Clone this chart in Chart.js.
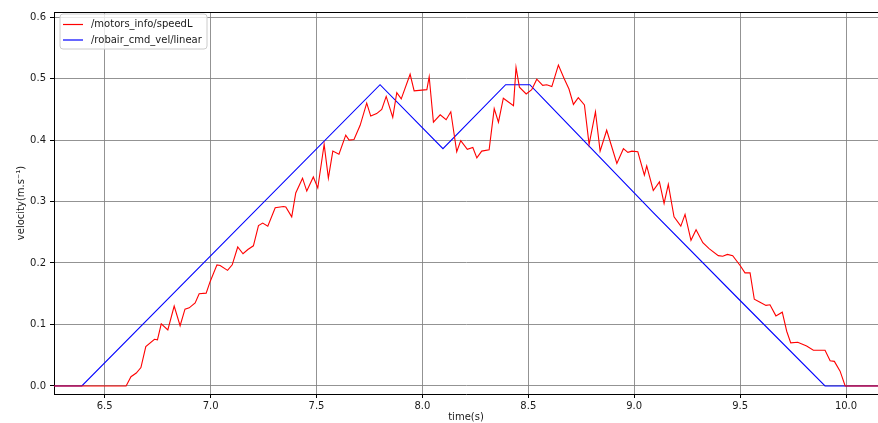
<!DOCTYPE html>
<html>
<head>
<meta charset="utf-8">
<script src="https://cdn.jsdelivr.net/npm/chart.js@4/dist/chart.umd.min.js"></script>
<style>
  html, body { margin: 0; padding: 0; background: #fff; overflow: hidden; }
  #wrap { position: relative; width: 878px; height: 423px; }
</style>
</head>
<body>
<div id="wrap"><canvas id="c"></canvas></div>
<script>
const seriesLabels = ['/motors_info/speedL', '/robair_cmd_vel/linear'];

const redTime = [
  6.200, 6.601, 6.624, 6.649, 6.671, 6.694, 6.735, 6.749, 6.767, 6.798,
  6.828, 6.856, 6.879, 6.899, 6.927, 6.946, 6.979, 6.998, 7.030, 7.045,
  7.080, 7.102, 7.128, 7.153, 7.176, 7.202, 7.226, 7.246, 7.270, 7.305,
  7.344, 7.355, 7.383, 7.402, 7.434, 7.454, 7.485, 7.506, 7.536, 7.556,
  7.577, 7.606, 7.638, 7.654, 7.677, 7.706, 7.737, 7.756, 7.784, 7.808,
  7.829, 7.860, 7.879, 7.900, 7.942, 7.961, 8.021, 8.032, 8.052, 8.084,
  8.112, 8.134, 8.162, 8.181, 8.212, 8.238, 8.257, 8.280, 8.315, 8.339,
  8.359, 8.382, 8.430, 8.442, 8.458, 8.490, 8.516, 8.540, 8.568, 8.587,
  8.611, 8.642, 8.669, 8.692, 8.713, 8.736, 8.765, 8.787, 8.817, 8.839,
  8.870, 8.918, 8.949, 8.970, 8.989, 9.017, 9.048, 9.059, 9.090, 9.119,
  9.141, 9.161, 9.188, 9.220, 9.240, 9.268, 9.292, 9.324, 9.355, 9.397,
  9.418, 9.440, 9.465, 9.500, 9.523, 9.547, 9.567, 9.594, 9.622, 9.641,
  9.669, 9.699, 9.720, 9.739, 9.772, 9.814, 9.846, 9.901, 9.925, 9.945,
  9.972, 9.996, 10.200
];
const redSpeed = [
  0.000, 0.000, 0.015, 0.021, 0.030, 0.064, 0.076, 0.075, 0.101, 0.091,
  0.130, 0.098, 0.125, 0.127, 0.135, 0.150, 0.151, 0.170, 0.197, 0.196,
  0.188, 0.197, 0.226, 0.215, 0.222, 0.228, 0.261, 0.265, 0.260, 0.290,
  0.292, 0.291, 0.275, 0.314, 0.338, 0.317, 0.340, 0.322, 0.393, 0.338,
  0.382, 0.377, 0.408, 0.400, 0.401, 0.424, 0.460, 0.439, 0.443, 0.450,
  0.471, 0.437, 0.477, 0.467, 0.507, 0.480, 0.482, 0.503, 0.429, 0.441,
  0.433, 0.446, 0.381, 0.399, 0.385, 0.388, 0.371, 0.382, 0.384, 0.451,
  0.429, 0.468, 0.456, 0.518, 0.486, 0.475, 0.482, 0.499, 0.489, 0.490,
  0.487, 0.522, 0.500, 0.483, 0.458, 0.469, 0.457, 0.393, 0.446, 0.382,
  0.416, 0.362, 0.386, 0.380, 0.382, 0.381, 0.343, 0.358, 0.318, 0.332,
  0.297, 0.328, 0.275, 0.260, 0.279, 0.237, 0.254, 0.233, 0.223, 0.212,
  0.211, 0.214, 0.212, 0.196, 0.184, 0.184, 0.141, 0.136, 0.131, 0.132,
  0.114, 0.120, 0.089, 0.070, 0.071, 0.065, 0.058, 0.058, 0.041, 0.040,
  0.024, 0.000, 0.000
];

const blueTime  = [6.200, 6.392, 7.800, 8.097, 8.393, 8.507, 8.600, 9.090, 9.500, 9.901, 10.200];
const blueSpeed = [0.000, 0.000, 0.490, 0.386, 0.490, 0.490, 0.457, 0.282, 0.139, 0.000, 0.000];

const xTicks = [6.5, 7.0, 7.5, 8.0, 8.5, 9.0, 9.5, 10.0];
const yTicks = [0.0, 0.1, 0.2, 0.3, 0.4, 0.5, 0.6];

const xTitle = 'time(s)';
const yTitle = 'velocity(m.s\u207B\u00B9)';

const FONT = 'DejaVu Sans';
Chart.defaults.font.family = FONT;
Chart.defaults.font.size = 10;
Chart.defaults.color = '#1a1a1a';

const toPts = (xs, ys) => xs.map((x, i) => ({ x: x, y: ys[i] }));

const frameAndLegend = {
  id: 'frameAndLegend',
  afterDraw(chart) {
    const ctx = chart.ctx;
    const a = chart.chartArea;
    ctx.save();
    // top spine
    ctx.strokeStyle = '#000';
    ctx.lineWidth = 1;
    ctx.beginPath();
    ctx.moveTo(a.left, a.top + 0.5);
    ctx.lineTo(a.right, a.top + 0.5);
    ctx.stroke();

    // legend box
    const bx = a.left + 6, by = a.top + 2, bw = 147, bh = 35, r = 3;
    ctx.beginPath();
    ctx.moveTo(bx + r, by);
    ctx.lineTo(bx + bw - r, by);
    ctx.quadraticCurveTo(bx + bw, by, bx + bw, by + r);
    ctx.lineTo(bx + bw, by + bh - r);
    ctx.quadraticCurveTo(bx + bw, by + bh, bx + bw - r, by + bh);
    ctx.lineTo(bx + r, by + bh);
    ctx.quadraticCurveTo(bx, by + bh, bx, by + bh - r);
    ctx.lineTo(bx, by + r);
    ctx.quadraticCurveTo(bx, by, bx + r, by);
    ctx.closePath();
    ctx.fillStyle = 'rgba(255,255,255,0.8)';
    ctx.fill();
    ctx.strokeStyle = '#cccccc';
    ctx.lineWidth = 1;
    ctx.stroke();

    ctx.font = '10px "' + FONT + '"';
    ctx.textBaseline = 'middle';
    ctx.textAlign = 'left';
    chart.data.datasets.forEach((ds, i) => {
      const yy = by + 10.5 + i * 15.5;
      ctx.strokeStyle = ds.borderColor;
      ctx.lineWidth = 1.2;
      ctx.beginPath();
      ctx.moveTo(bx + 3, yy);
      ctx.lineTo(bx + 23, yy);
      ctx.stroke();
      ctx.fillStyle = '#1a1a1a';
      ctx.fillText(ds.label, bx + 31, yy);
    });
    ctx.restore();
  }
};

new Chart(document.getElementById('c'), {
  type: 'line',
  data: {
    datasets: [
      {
        label: seriesLabels[0],
        data: toPts(redTime, redSpeed),
        borderColor: 'rgb(255,0,0)',
        borderWidth: 1.1,
        pointRadius: 0,
        tension: 0,
        fill: false
      },
      {
        label: seriesLabels[1],
        data: toPts(blueTime, blueSpeed),
        borderColor: 'rgb(0,0,255)',
        borderWidth: 1.1,
        pointRadius: 0,
        tension: 0,
        fill: false
      }
    ]
  },
  options: {
    responsive: true,
    maintainAspectRatio: false,
    animation: false,
    events: [],
    layout: { padding: { top: 12, right: 0, left: 0, bottom: 0 } },
    plugins: {
      legend: { display: false },
      tooltip: { enabled: false }
    },
    scales: {
      x: {
        type: 'linear',
        min: 6.2606,
        max: 10.151,
        afterBuildTicks(scale) { scale.ticks = xTicks.map(v => ({ value: v })); },
        afterFit(scale) { scale.height = 29; },
        ticks: {
          autoSkip: false,
          maxRotation: 0,
          padding: 2,
          color: '#1a1a1a',
          callback: v => Number(v).toFixed(1)
        },
        grid: {
          color: 'rgba(128,128,128,0.85)',
          lineWidth: 1,
          drawTicks: true,
          tickLength: 4,
          tickColor: '#000'
        },
        border: { display: true, color: '#000', width: 1 },
        title: {
          display: true,
          text: xTitle,
          color: '#1a1a1a',
          font: { size: 10 },
          padding: { top: 0, bottom: 0 }
        }
      },
      y: {
        type: 'linear',
        min: -0.0131,
        max: 0.6083,
        afterBuildTicks(scale) { scale.ticks = yTicks.map(v => ({ value: v })); },
        afterFit(scale) { scale.width = 54; },
        ticks: {
          autoSkip: false,
          padding: 4,
          color: '#1a1a1a',
          callback: v => Number(v).toFixed(1)
        },
        grid: {
          color: 'rgba(128,128,128,0.85)',
          lineWidth: 1,
          drawTicks: true,
          tickLength: 4,
          tickColor: '#000'
        },
        border: { display: true, color: '#000', width: 1 },
        title: {
          display: true,
          text: yTitle,
          color: '#1a1a1a',
          font: { size: 10 },
          padding: { top: 15, bottom: 0 }
        }
      }
    }
  },
  plugins: [frameAndLegend]
});
</script>
</body>
</html>
